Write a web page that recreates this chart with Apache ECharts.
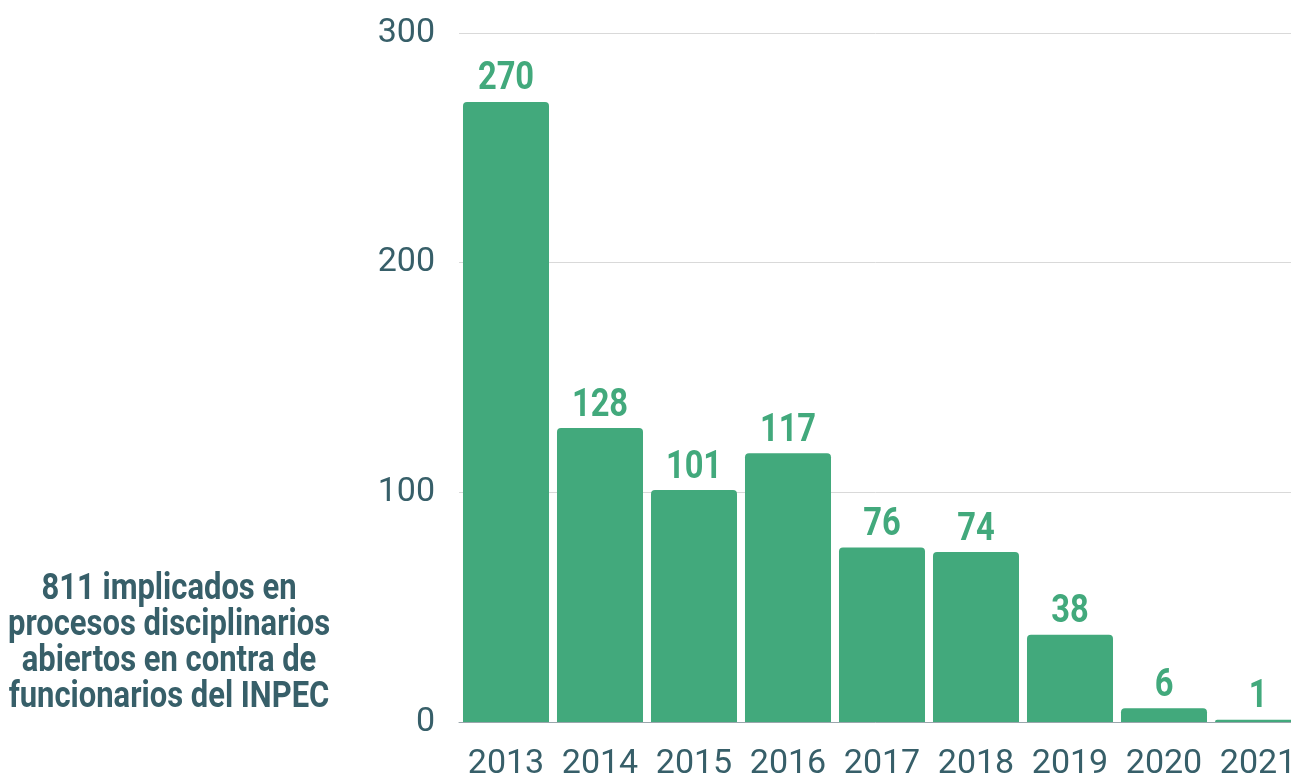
<!DOCTYPE html>
<html>
<head>
<meta charset="utf-8">
<script src="https://cdn.jsdelivr.net/npm/echarts@6/dist/echarts.min.js"></script>
<style>
html,body{margin:0;padding:0;background:#fff;}
#chart{width:1291px;height:774px;}
</style>
</head>
<body>
<div id="chart"></div>
<script>
const categories = ['2013','2014','2015','2016','2017','2018','2019','2020','2021'];
const values = [270, 128, 101, 117, 76, 74, 38, 6, 1];
const yTicks = [0, 100, 200, 300];
const sideNote = ['811 implicados en', 'procesos disciplinarios', 'abiertos en contra de', 'funcionarios del INPEC'];

const GREEN = '#42a97c';
const TEAL = '#375f69';
const COND = 0.86; // horizontal squeeze to mimic a condensed face

const chart = echarts.init(document.getElementById('chart'), null, {renderer: 'canvas'});
chart.setOption({
  animation: false,
  backgroundColor: '#ffffff',
  grid: {left: 459, width: 846, top: 33, bottom: 52, containLabel: false, outerBoundsMode: 'none'},
  xAxis: {
    type: 'category',
    data: categories,
    axisTick: {show: false},
    axisLine: {show: true, lineStyle: {color: '#9aa6ac', width: 1}},
    axisLabel: {color: TEAL, fontFamily: 'Roboto', fontSize: 34, margin: 25, interval: 0}
  },
  yAxis: {
    type: 'value',
    min: yTicks[0],
    max: yTicks[yTicks.length - 1],
    interval: 100,
    axisLine: {show: false},
    axisTick: {show: false},
    splitLine: {lineStyle: {color: '#d9d9d9', width: 1}},
    axisLabel: {color: TEAL, fontFamily: 'Roboto', fontSize: 34, margin: 24}
  },
  series: [{
    type: 'bar',
    data: values,
    barCategoryGap: '8.5%',
    itemStyle: {color: GREEN, borderRadius: [4, 4, 0, 0]}
  }, {
    type: 'custom',
    data: values.map((v, i) => [i, v]),
    z: 5,
    renderItem: function (params, api) {
      const p = api.coord([api.value(0), api.value(1)]);
      return {
        type: 'text',
        x: p[0],
        y: p[1] - 3,
        scaleX: COND,
        style: {
          text: String(api.value(1)),
          x: 0, y: 0,
          align: 'center',
          verticalAlign: 'bottom',
          fill: GREEN,
          fontFamily: 'Roboto',
          fontWeight: 'bold',
          fontSize: 38
        }
      };
    }
  }],
  graphic: [{
    type: 'text',
    x: 169,
    y: 572,
    scaleX: COND,
    style: {
      text: sideNote.join('\n'),
      x: 0,
      y: 0,
      align: 'center',
      fill: TEAL,
      fontFamily: 'Roboto',
      fontWeight: 'bold',
      fontSize: 36,
      lineHeight: 36
    }
  }]
});
</script>
</body>
</html>
